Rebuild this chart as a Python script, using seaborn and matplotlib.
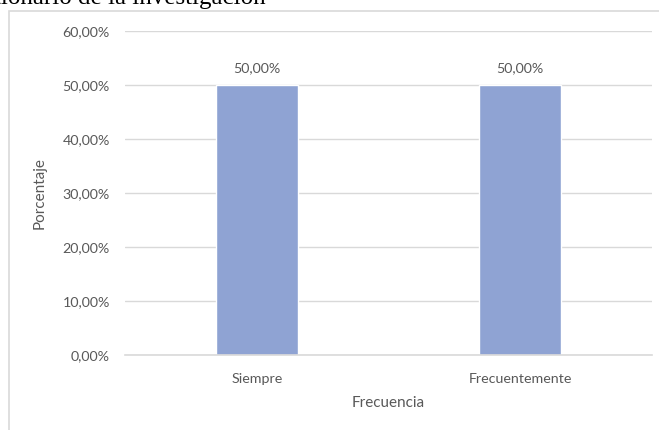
import pandas as pd
import matplotlib.pyplot as plt
import matplotlib.ticker as ticker
from matplotlib.patches import Rectangle
import seaborn as sns

# === DATA ===
categorias = ["Siempre", "Frecuentemente"]
porcentajes = [50.0, 50.0]
y_ticks = [0, 10, 20, 30, 40, 50, 60]

sns.set_style("white")
plt.rcParams["font.family"] = ["Lato", "DejaVu Sans"]

GRIS = "#595959"
LINEA = "#d9d9d9"
AZUL = "#8fa3d3"

df = pd.DataFrame({"Frecuencia": categorias, "Porcentaje": porcentajes})

fig = plt.figure(figsize=(6.59, 4.30), dpi=100)
ax = fig.add_axes([125 / 659, 1 - 355 / 430, (652 - 125) / 659, (355 - 31) / 430])

# Marco del grafico (se sale por la derecha y abajo)
fig.patches.append(Rectangle((8.5 / 659, -0.1), 1.0, 1 - 11 / 430 + 0.1,
                             transform=fig.transFigure, fill=False,
                             edgecolor=LINEA, lw=1.2))

# Titulo cortado del documento (recortado por el borde superior)
fig.text(266 / 659, 1 - 4 / 430, "Cuestionario de la investigación",
         ha="right", va="baseline", family="Liberation Serif",
         fontsize=18, color="black")

sns.barplot(data=df, x="Frecuencia", y="Porcentaje", ax=ax, color=AZUL,
            width=0.31, saturation=1)

ax.set_ylim(0, 60)
ax.set_yticks(y_ticks)
ax.yaxis.set_major_formatter(ticker.FuncFormatter(
    lambda v, _: f"{v:.2f}".replace(".", ",") + "%"))
ax.grid(axis="y", color=LINEA, lw=1)
ax.set_axisbelow(True)
for s in ["top", "right", "left"]:
    ax.spines[s].set_visible(False)
ax.spines["bottom"].set_color(LINEA)
ax.spines["bottom"].set_linewidth(1.2)
ax.tick_params(axis="both", length=0, colors=GRIS, labelsize=10.3)
ax.tick_params(axis="y", pad=11)
ax.tick_params(axis="x", pad=13)

for i, v in enumerate(porcentajes):
    ax.annotate(f"{v:.2f}".replace(".", ",") + "%", (i, v),
                xytext=(0, 8), textcoords="offset points",
                ha="center", va="bottom", color=GRIS, fontsize=10.3)

ax.set_xlabel("Frecuencia", color=GRIS, fontsize=11, labelpad=8)
ax.set_ylabel("Porcentaje", color=GRIS, fontsize=11, labelpad=11)

fig.savefig("out.png", dpi=100)
